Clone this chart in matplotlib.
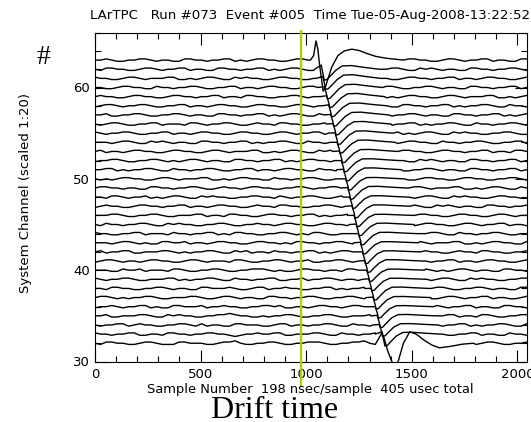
"""LArTPC event display: 32 wire channels stacked (scaled 1:20) vs sample number."""

import numpy as np
import matplotlib.pyplot as plt
from matplotlib.ticker import MultipleLocator

plt.rcParams["font.family"] = ["DejaVu Sans"]

TITLE = "LArTPC   Run #073  Event #005  Time Tue-05-Aug-2008-13:22:52"
XLABEL = "Sample Number  198 nsec/sample  405 usec total"
YLABEL = "System Channel (scaled 1:20)"
N_SAMPLES = 2045
MARKER_SAMPLE = 975          # yellow-green line
CHANNELS = list(range(32, 64))

# baseline wiggle per channel (bottom -> top), digit 4 = zero, 1 digit = NOISE_STEP
NOISE_STEP = 0.13
NOISE_ROWS = [
    "4355443345543335544433455643344554334455543344556434435543345543445334554334455",
    "5443445533443554434455443234454455334445543354434453344554345543344553443354434",
    "4344553454433445543534433554443345534434455433544345543344554334455343445543354",
    "4453344455433545443344556544334344554334455433444554334554433445534435543344554",
    "3445434455343355444534454433445545334434554434554433455433445543445534433554434",
    "4554343445543344455433455434433554434455433445543454433455443345543445534433455",
    "4435544334455434433554445433455344544334455343445543345543344554334455434433554",
    "5434455433444553434455433544344553344534455434433554434455343455433545443344554",
    "4443354453444355433445543344555434334554434435544345543344554343455434433554434",
    "3455434434554433455434443554334455434453344554344354433455443445534434554433455",
    "4534455334445543434455433545344354434455343455433445534434554433454435544334455",
    "4443455434335544534434554433455443435544344554334455433445543444553343455443354",
    "5443344553444354434455343554433445543435543344554434455343445543354434455433445",
    "4354434455433545443344554334454434554433455443544334455433455443345543445534433",
    "4445543344554334445534435544334554434455343445543345544334554433455443345543444",
    "3454433455443445534434554433454435544334455434433554434455433545434433554434455",
    "4435543445343455433545443344554435434455433455443444553343455433545443345544334",
    "4554434433554434455433454434554433445543445534433455443345543444553343455433544",
    "4343455443345543444553343455443354434455433445544334554433455443345544334455433",
    "4455343445543354434455433445534434554433544345543344554334455434433554434455343",
    "3445543344554343455434433554434455343455443345543443455433545434433554434455343",
    "4534434554433455443345543444553343455433545443345544334554433455443445534435544",
    "4443455433545434433554434455343445543354434455433454433455443354434455433445534",
    "5434455433445534434554433455443345543445534433554434455343455433545443344554334",
    "4345543344553444355434455433454435544334455434433555434455343445543354434455433",
    "4453344554334455434433554434455343455433545443344554334455434433554434455343455",
    "3455434455433445534434554433455443345543444553343454433554434455343445543354434",
    "4544334554433455443445534435544334455434433554434455343455443345543444553343455",
    "4433455443354434455433445534434554433455443345543443554334455434433554434455343",
    "5443345543444553343455433545443345544334554433455434433455443445534434554433455",
    "4355443345543445534433554434455343455433445543354434455433545434433554434455433",
    "4454334455434433554434455343455443345543444553343455433455443345543445534433554",
]

# signal on channels 33..62: time of the dip, dip depth, overshoot, small pre-bump
DIP_SAMPLE = [1372, 1361, 1350, 1341, 1330, 1321, 1310, 1300, 1291, 1280,
              1270, 1261, 1250, 1240, 1231, 1220, 1210, 1201, 1190, 1180,
              1171, 1160, 1150, 1141, 1130, 1120, 1111, 1100, 1092, 1085]
DIP_DEPTH = [1.3, 1.25, 1.3, 1.25, 1.25, 1.3, 1.25, 1.25, 1.25, 1.3,
             1.25, 1.25, 1.25, 1.25, 1.3, 1.25, 1.25, 1.25, 1.25, 1.25,
             1.25, 1.2, 1.25, 1.2, 1.25, 1.2, 1.2, 1.25, 1.2, 1.2]
OVERSHOOT = [0.2, 0.15, 0.15, 0.12, 0.12, 0.15, 0.12, 0.12, 0.15, 0.12,
             0.12, 0.15, 0.15, 0.12, 0.15, 0.15, 0.18, 0.15, 0.2, 0.2,
             0.22, 0.25, 0.25, 0.28, 0.3, 0.3, 0.35, 0.35, 0.4, 0.4]
PRE_BUMP = [0.25, 0.05, 0.05, 0.0, 0.05, 0.0, 0.05, 0.0, 0.05, 0.0,
            0.05, 0.0, 0.05, 0.0, 0.05, 0.0, 0.05, 0.0, 0.05, 0.0,
            0.05, 0.0, 0.05, 0.05, 0.05, 0.1, 0.1, 0.1, 0.2, 0.45]
# pulse template (offsets from the dip)
TPL_DT = [-45, -14, -4, 0, 12, 30, 55, 85, 130, 190, 260]
TPL_NEG = [0, 0, -0.6, -1.0, -0.95, -0.6, -0.2, 0, 0, 0, 0]
TPL_POS = [0, 0, 0, 0, 0, 0, 0.3, 0.9, 1.0, 0.5, 0]
TPL_PRE = [0, 1.0, 0, 0, 0, 0, 0, 0, 0, 0, 0]

# explicit pulses for the first and last channel
TOP_T = [1020, 1035, 1046, 1055, 1063, 1080, 1090, 1120, 1150, 1180, 1215,
         1250, 1290, 1330, 1380, 1440]
TOP_V = [0.0, 0.5, 2.1, 1.2, -0.5, -3.4, -3.0, -0.8, 0.5, 1.0, 1.2,
         1.05, 0.7, 0.4, 0.2, 0.05]
BOTTOM_T = [1330, 1350, 1358, 1368, 1385, 1405, 1420, 1435, 1460, 1490,
            1520, 1560, 1595, 1630, 1680, 1740, 1790]
BOTTOM_V = [0.0, 0.8, 1.15, 0.6, -0.8, -2.0, -3.0, -2.0, 0.0, 1.25,
            1.0, 0.3, -0.2, -0.5, -0.35, -0.1, 0.0]


def pulse(k):
    if k == 0:
        return np.array(BOTTOM_T, float), np.array(BOTTOM_V, float)
    if k == len(CHANNELS) - 1:
        return np.array(TOP_T, float), np.array(TOP_V, float)
    j = k - 1
    t = DIP_SAMPLE[j] + np.array(TPL_DT, float)
    v = (DIP_DEPTH[j] * np.array(TPL_NEG) + OVERSHOOT[j] * np.array(TPL_POS)
         + PRE_BUMP[j] * np.array(TPL_PRE))
    return t, v


def trace(k):
    row = NOISE_ROWS[k]
    xs = np.linspace(0, 2070, len(row))
    ys = (np.array([int(c) for c in row]) - 4) * NOISE_STEP
    t, v = pulse(k)
    left = xs < t[0]
    right = xs > t[-1]
    x = np.concatenate([xs[left], t, xs[right]])
    y = np.concatenate([ys[left], v, ys[right]])
    return x, CHANNELS[k] + y


fig = plt.figure(figsize=(5.31, 4.22), dpi=100)
ax = fig.add_axes([95 / 531, 1 - 361.5 / 422, 432 / 531, 328.8 / 422])

for k in range(len(CHANNELS)):
    x, y = trace(k)
    ax.plot(x, y, color="black", lw=1.0)

ax.axvline(MARKER_SAMPLE, ymin=-0.075, ymax=1.005, clip_on=False,
           color="#a8d000", lw=1.6, zorder=5)

ax.set_xlim(0, N_SAMPLES)
ax.set_ylim(30, 66)
ax.xaxis.set_major_locator(MultipleLocator(500))
ax.xaxis.set_minor_locator(MultipleLocator(100))
ax.yaxis.set_major_locator(MultipleLocator(10))
ax.yaxis.set_minor_locator(MultipleLocator(2))
ax.tick_params(which="both", direction="in", top=True, right=True,
               width=0.8, labelsize=9.5)
ax.tick_params(which="major", length=8.5)
ax.tick_params(which="minor", length=4)
ax.tick_params(axis="x", pad=4.5)
ax.tick_params(axis="y", pad=3.5)
ax.set_yticks([30, 40, 50, 60])
for s in ax.spines.values():
    s.set_linewidth(0.8)

fig.text(90 / 531, 1 - 15 / 422, TITLE, ha="left", va="center", fontsize=9.6)
fig.text(26 / 531, 1 - 193 / 422, YLABEL, rotation=90, ha="center",
         va="center", fontsize=9.5)
fig.text(310 / 531, 1 - 390 / 422, XLABEL, ha="center", va="center",
         fontsize=9.4)
fig.text(275 / 531, 1 - 418 / 422, "Drift time", ha="center", va="baseline",
         fontsize=23, family="Liberation Serif")
fig.text(43 / 531, 1 - 58 / 422, "#", ha="center", va="center",
         fontsize=20, family="Liberation Serif")

fig.savefig("out.png", dpi=100)
